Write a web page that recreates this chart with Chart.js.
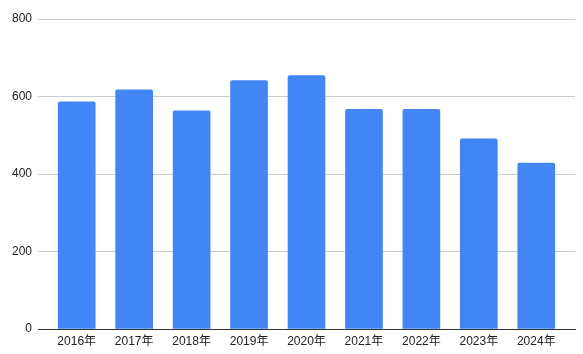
<!DOCTYPE html>
<html lang="ja">
<head>
    <meta charset="UTF-8">
    <title>年別グラフ</title>
    <script src="https://cdn.jsdelivr.net/npm/chart.js"></script>
    <style>
        html, body { margin: 0; padding: 0; background: #fff; }
        #wrap { width: 583px; height: 354px; }
    </style>
</head>
<body>
    <div id="wrap"><canvas id="chart" width="583" height="354"></canvas></div>

    <script>
        const years = ['2016年', '2017年', '2018年', '2019年', '2020年', '2021年', '2022年', '2023年', '2024年'];
        const values = [586, 617, 563, 641, 654, 567, 567, 491, 428];
        const yTicks = [0, 200, 400, 600, 800];

        const fontFamily = "Arial, 'Liberation Sans', 'Noto Sans CJK JP', sans-serif";

        new Chart(document.getElementById('chart'), {
            type: 'bar',
            data: {
                datasets: [{
                    data: values.map((v, i) => ({ x: i, y: v })),
                    backgroundColor: '#4285f4',
                    borderRadius: 2,
                    barThickness: 37
                }]
            },
            options: {
                responsive: false,
                animation: false,
                devicePixelRatio: 1,
                layout: { padding: { top: 19, right: 8, left: 0, bottom: 0 } },
                plugins: { legend: { display: false }, tooltip: { enabled: false } },
                scales: {
                    x: {
                        type: 'linear',
                        offset: false,
                        min: -0.674,
                        max: years.length - 1 + 0.674,
                        grid: { display: false, offset: false, drawTicks: false },
                        border: { display: true, color: '#333333', width: 1 },
                        afterBuildTicks: (scale) => {
                            scale.ticks = years.map((_, i) => ({ value: i }));
                        },
                        afterFit: (scale) => { scale.height = 25; },
                        ticks: {
                            autoSkip: false,
                            maxRotation: 0,
                            padding: 5,
                            color: '#222222',
                            font: { family: fontFamily, size: 12 },
                            callback: (v) => years[v]
                        }
                    },
                    y: {
                        min: yTicks[0],
                        max: yTicks[yTicks.length - 1],
                        afterBuildTicks: (scale) => {
                            scale.ticks = yTicks.map(v => ({ value: v }));
                        },
                        afterFit: (scale) => { scale.width = 38; },
                        grid: { color: '#cccccc', drawTicks: false },
                        border: { display: false },
                        ticks: {
                            padding: 6,
                            color: '#222222',
                            font: { family: fontFamily, size: 12 }
                        }
                    }
                }
            }
        });
    </script>
</body>
</html>
